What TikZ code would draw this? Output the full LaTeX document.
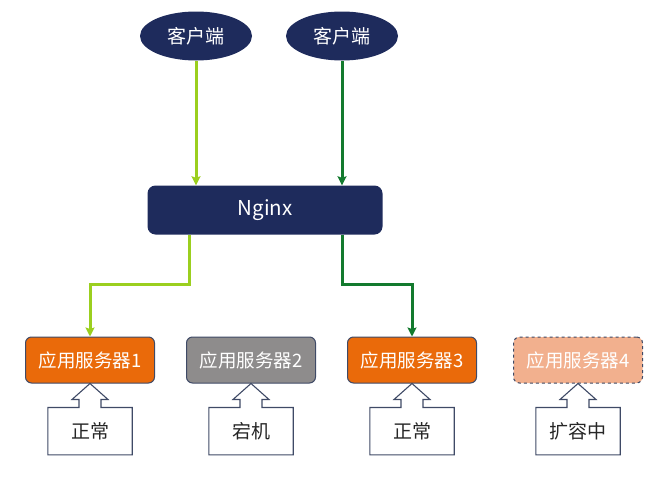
\documentclass[tikz,border=0pt]{standalone}
\usepackage{fontspec}
\setmainfont{Noto Sans CJK SC}
\usepackage{tikz}
\usetikzlibrary{arrows.meta,positioning,calc,shapes.geometric}
\definecolor{navy}{HTML}{1E2B5C}
\definecolor{srvorange}{HTML}{EA6A0A}
\definecolor{srvgray}{HTML}{8E8C8C}
\definecolor{srvpeach}{HTML}{F2B08E}
\definecolor{limeflow}{HTML}{9BCF1F}
\definecolor{darkflow}{HTML}{137A2E}
\definecolor{outline}{HTML}{3F4A66}
% status box with an up arrow pointing at its server
\newcommand{\upcallout}[2]{%
  \draw[callout] (#1.north west) -- ($(#1.north)+(-11,0)$) -- ++(0,-8) -- ++(-7,0)
    -- (#1.north |- #2.south) -- ($(#1.north)+(18,-8)$) -- ++(-7,0)
    -- ($(#1.north)+(11,0)$) -- (#1.north east) -- (#1.south east)
    -- (#1.south west) -- cycle;}

\begin{document}
\begin{tikzpicture}[
    x=1pt, y=-1pt, >={Stealth[length=9pt,width=9pt,inset=1.5pt]},
    txt/.style={font=\fontsize{19}{22}\selectfont},
    client/.style={ellipse, fill=navy, text=white, minimum width=112pt,
                minimum height=49pt, inner sep=0pt, txt},
    proxy/.style={fill=navy, text=white, rounded corners=8pt, minimum width=235pt,
                minimum height=49pt, font=\fontsize{20.5}{22}\selectfont},
    server/.style={draw=outline, line width=1pt, text=white, rounded corners=6pt,
                minimum width=129pt, minimum height=46pt, inner sep=0pt,
                font=\fontsize{18.5}{20}\selectfont},
    status/.style={minimum width=84pt, minimum height=47pt, text=black!85, txt},
    callout/.style={draw=outline, line width=1.1pt},
    flowlime/.style={->, line width=3pt, limeflow},
    flowdark/.style={->, line width=3pt, darkflow}]
  \useasboundingbox (0,0) rectangle (667,477);
  \node[client] (c1) at (196,36) {客户端};
  \node[client] (c2) at (342,36) {客户端};
  \node[proxy] (ng) at (265,210) {Nginx};
  \node[server, fill=srvorange] (s1) at (90,360) {应用服务器1};
  \node[server, fill=srvgray] (s2) at (251,360) {应用服务器2};
  \node[server, fill=srvorange] (s3) at (412,360) {应用服务器3};
  \node[server, fill=srvpeach, dashed] (s4) at (578,360) {应用服务器4};
  \node[status, below=24pt of s1] (st1) {正常};
  \node[status, below=24pt of s2] (st2) {宕机};
  \node[status, below=24pt of s3] (st3) {正常};
  \node[status, below=24pt of s4] (st4) {扩容中};
  \upcallout{st1}{s1}
  \upcallout{st2}{s2}
  \upcallout{st3}{s3}
  \upcallout{st4}{s4}
  \coordinate (split) at (0,284);
  \draw[flowlime] (c1.south) -- (c1.south |- ng.north);
  \draw[flowdark] (c2.south) -- (c2.south |- ng.north);
  \draw[flowlime] ($(ng.south west)+(42,0)$) |- (s1.north |- split) -- (s1.north);
  \draw[flowdark] (c2.south |- ng.south) |- (s3.north |- split) -- (s3.north);
\end{tikzpicture}
\end{document}
